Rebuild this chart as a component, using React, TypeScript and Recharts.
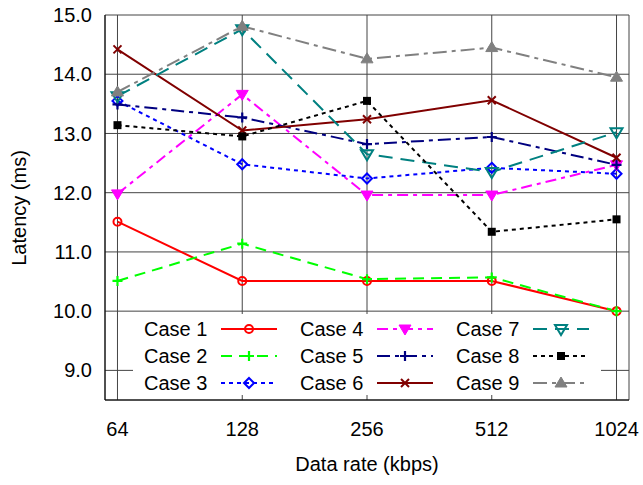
import React from 'react';
import { LineChart, Line, XAxis, YAxis, CartesianGrid, Legend } from 'recharts';

// data rates on the x axis (plotted at evenly spaced positions)
const rates = ['64', '128', '256', '512', '1024'];
const yTicks = [9, 10, 11, 12, 13, 14, 15];

const case1 = [11.51, 10.51, 10.51, 10.51, 10.0];
const case2 = [10.51, 11.14, 10.54, 10.57, 10.0];
const case3 = [13.55, 12.48, 12.24, 12.42, 12.32];
const case4 = [11.98, 13.66, 11.96, 11.96, 12.47];
const case5 = [13.49, 13.27, 12.82, 12.94, 12.47];
const case6 = [14.42, 13.05, 13.24, 13.56, 12.59];
const case7 = [13.63, 14.76, 12.65, 12.35, 13.02];
const case8 = [13.14, 12.95, 13.55, 11.34, 11.55];
const case9 = [13.7, 14.81, 14.26, 14.45, 13.95];

const FONT = '"Liberation Sans", Arial, sans-serif';

type Shape = 'circle' | 'plus' | 'diamond' | 'triDownFill' | 'cross' | 'triDown' | 'square' | 'triUp';

interface SeriesDef {
  key: string;
  name: string;
  values: number[];
  color: string;
  dash?: string;
  shape: Shape;
}

const series: SeriesDef[] = [
  { key: 'c1', name: 'Case 1', values: case1, color: '#ff0000', shape: 'circle' },
  { key: 'c2', name: 'Case 2', values: case2, color: '#00ff00', dash: '11 7', shape: 'plus' },
  { key: 'c3', name: 'Case 3', values: case3, color: '#0000ff', dash: '4 4', shape: 'diamond' },
  { key: 'c4', name: 'Case 4', values: case4, color: '#ff00ff', dash: '11 5 4 5', shape: 'triDownFill' },
  { key: 'c5', name: 'Case 5', values: case5, color: '#000080', dash: '13 5 4 5', shape: 'plus' },
  { key: 'c6', name: 'Case 6', values: case6, color: '#800000', shape: 'cross' },
  { key: 'c7', name: 'Case 7', values: case7, color: '#008080', dash: '14 8', shape: 'triDown' },
  { key: 'c8', name: 'Case 8', values: case8, color: '#000000', dash: '4 4', shape: 'square' },
  { key: 'c9', name: 'Case 9', values: case9, color: '#808080', dash: '14 5 4 5', shape: 'triUp' },
];

const data = rates.map((r, i) => {
  const row: Record<string, number | string> = { i, rate: r };
  series.forEach((s) => {
    row[s.key] = s.values[i];
  });
  return row;
});

function Marker({ shape, cx, cy, color }: { shape: Shape; cx: number; cy: number; color: string }) {
  switch (shape) {
    case 'circle':
      return <circle cx={cx} cy={cy} r={4} fill="none" stroke={color} strokeWidth={2} />;
    case 'plus':
      return <path d={`M${cx - 5},${cy}h10M${cx},${cy - 5}v10`} stroke={color} strokeWidth={2.2} fill="none" />;
    case 'diamond':
      return (
        <path
          d={`M${cx},${cy - 5}L${cx + 5},${cy}L${cx},${cy + 5}L${cx - 5},${cy}Z`}
          fill="none"
          stroke={color}
          strokeWidth={2}
        />
      );
    case 'triDownFill':
      return <path d={`M${cx - 6},${cy - 4}L${cx + 6},${cy - 4}L${cx},${cy + 6}Z`} fill={color} stroke={color} strokeWidth={1} />;
    case 'triDown':
      return (
        <path d={`M${cx - 6},${cy - 4}L${cx + 6},${cy - 4}L${cx},${cy + 6}Z`} fill="none" stroke={color} strokeWidth={2} />
      );
    case 'cross':
      return <path d={`M${cx - 4},${cy - 4}l8,8M${cx + 4},${cy - 4}l-8,8`} stroke={color} strokeWidth={2} fill="none" />;
    case 'square':
      return <rect x={cx - 4} y={cy - 4} width={8} height={8} fill={color} />;
    case 'triUp':
      return <path d={`M${cx - 6},${cy + 4}L${cx + 6},${cy + 4}L${cx},${cy - 6}Z`} fill={color} stroke={color} strokeWidth={1} />;
  }
  return null;
}

function LegendBox() {
  const colX = [11, 167, 323];
  const rowY = [15, 42, 69];
  return (
    <svg width={468} height={81} style={{ display: 'block', fontFamily: FONT }}>
      {series.map((s, idx) => {
        const col = Math.floor(idx / 3);
        const row = idx % 3;
        const x = colX[col];
        const y = rowY[row];
        return (
          <g key={s.key}>
            <text x={x} y={y} fontSize={20} dominantBaseline="central" fill="#000">
              {s.name}
            </text>
            <line x1={x + 77} x2={x + 133} y1={y} y2={y} stroke={s.color} strokeWidth={2} strokeDasharray={s.dash} />
            <Marker shape={s.shape} cx={x + 105} cy={y} color={s.color} />
          </g>
        );
      })}
    </svg>
  );
}

export default function App() {
  return (
    <div style={{ position: 'absolute', left: 0, top: 0, width: 643, height: 485, background: '#fff' }}>
      <LineChart
        width={643}
        height={485}
        data={data}
        margin={{ top: 15, right: 14, left: 10, bottom: 0 }}
        style={{ fontFamily: FONT }}
      >
        <CartesianGrid stroke="#444" strokeWidth={1} />
        <XAxis
          dataKey="i"
          type="number"
          domain={[-0.1, 4.1]}
          ticks={[0, 1, 2, 3, 4]}
          tickFormatter={(v: number) => rates[v]}
          height={85}
          tickSize={0}
          tickMargin={22}
          tickLine={false}
          axisLine={{ stroke: '#000', strokeWidth: 1 }}
          tick={{ fill: '#000', fontSize: 20 }}
          label={() => (
            <text x={367} y={471} textAnchor="middle" fontSize={20} fill="#000">
              Data rate (kbps)
            </text>
          )}
        />
        <XAxis
          xAxisId="top"
          orientation="top"
          dataKey="i"
          type="number"
          domain={[-0.1, 4.1]}
          height={0}
          tick={false}
          tickLine={false}
          axisLine={{ stroke: '#000', strokeWidth: 1 }}
        />
        <YAxis
          type="number"
          domain={[8.5, 15]}
          ticks={yTicks}
          tickFormatter={(v: number) => v.toFixed(1)}
          width={95}
          tickSize={0}
          tickMargin={13}
          tickLine={false}
          axisLine={{ stroke: '#000', strokeWidth: 1 }}
          tick={{ fill: '#000', fontSize: 20 }}
          label={() => (
            <text x={26} y={208} transform="rotate(-90 26 208)" textAnchor="middle" fontSize={20} fill="#000">
              Latency (ms)
            </text>
          )}
        />
        <YAxis
          yAxisId="right"
          orientation="right"
          type="number"
          domain={[8.5, 15]}
          width={0}
          tick={false}
          tickLine={false}
          axisLine={{ stroke: '#000', strokeWidth: 1 }}
        />
        <Legend
          layout="horizontal"
          verticalAlign="middle"
          align="center"
          wrapperStyle={{ position: 'absolute', left: 133, top: 314, width: 468, height: 81, background: '#fff' }}
          content={() => <LegendBox />}
        />
        {series.map((s) => (
          <Line
            key={s.key}
            dataKey={s.key}
            name={s.name}
            type="linear"
            stroke={s.color}
            strokeWidth={2}
            strokeDasharray={s.dash}
            isAnimationActive={false}
            activeDot={false}
            dot={(p: any) => (
              <g key={`${s.key}-${p.index}`}>
                <Marker shape={s.shape} cx={p.cx} cy={p.cy} color={s.color} />
              </g>
            )}
          />
        ))}
      </LineChart>
    </div>
  );
}
